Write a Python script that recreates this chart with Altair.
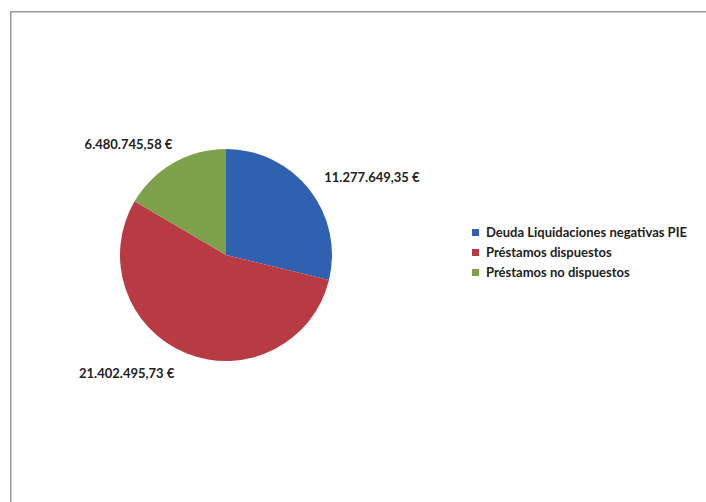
import altair as alt
import pandas as pd

categories = ["Deuda Liquidaciones negativas PIE", "Préstamos dispuestos", "Préstamos no dispuestos"]
values = [11277649.35, 21402495.73, 6480745.58]
labels = ["11.277.649,35 €", "21.402.495,73 €", "6.480.745,58 €"]
colors = ["#3060B0", "#B83A42", "#7DA04A"]

df = pd.DataFrame({"idx": list(range(len(categories))), "cat": categories,
                   "value": values, "label": labels})

W, H = 695, 490
CX, CY = 215, 243
theta_scale = alt.Scale(domain=[0, 1])

base = (
    alt.Chart(df)
    .transform_stack(stack="value", groupby=[], as_=["v0", "v1"], sort=[alt.SortField("idx", order="ascending")])
    .transform_joinaggregate(total="sum(value)")
    .transform_calculate(f0="datum.v0 / datum.total", f1="datum.v1 / datum.total",
                         fmid="(datum.v0 + datum.v1) / 2 / datum.total")
)

pie = base.mark_arc(outerRadius=106).encode(
    x=alt.value(CX), y=alt.value(CY),
    theta=alt.Theta("f0:Q", scale=theta_scale),
    theta2="f1:Q",
    color=alt.Color("cat:N", scale=alt.Scale(domain=categories, range=colors),
                    sort=categories,
                    legend=alt.Legend(title=None, orient="none", legendX=458, legendY=214,
                                      symbolType="square", symbolSize=49, labelLimit=0,
                                      labelFont="Lato", labelFontSize=13, labelFontWeight="bold",
                                      labelColor="#222222", rowPadding=6, symbolStrokeWidth=0)),
)

offsets = [(28, 16), (-43, -20), (-23, 20)]
layers = []
# frame edges (left and top) drawn as thin filled rects
frame = pd.DataFrame({"k": [0]})
border_left = alt.Chart(frame).mark_rect(color="#9a9a9a", strokeWidth=0).encode(
    x=alt.value(-1), x2=alt.value(0.5), y=alt.value(-1), y2=alt.value(H))
border_top = alt.Chart(frame).mark_rect(color="#9a9a9a", strokeWidth=0).encode(
    x=alt.value(-1), x2=alt.value(W), y=alt.value(-1), y2=alt.value(0.5))
layers += [border_left, border_top, pie]
for i, (dx, dy) in enumerate(offsets):
    t = base.transform_filter(f"datum.idx == {i}").mark_text(
        radius=150, dx=dx, dy=dy, font="Lato", fontSize=13, fontWeight="bold", color="#222222"
    ).encode(
        x=alt.value(CX), y=alt.value(CY),
        theta=alt.Theta("fmid:Q", scale=theta_scale),
        text="label:N",
    )
    layers.append(t)

chart = (
    alt.layer(*layers)
    .properties(width=W, height=H,
                autosize=alt.AutoSizeParams(type="none"),
                padding={"left": 11, "top": 12, "right": 0, "bottom": 0},
                background="white")
    .configure_view(stroke="transparent", strokeWidth=0)
)

chart.save("out.html", embed_options={"renderer": "svg", "actions": False})
